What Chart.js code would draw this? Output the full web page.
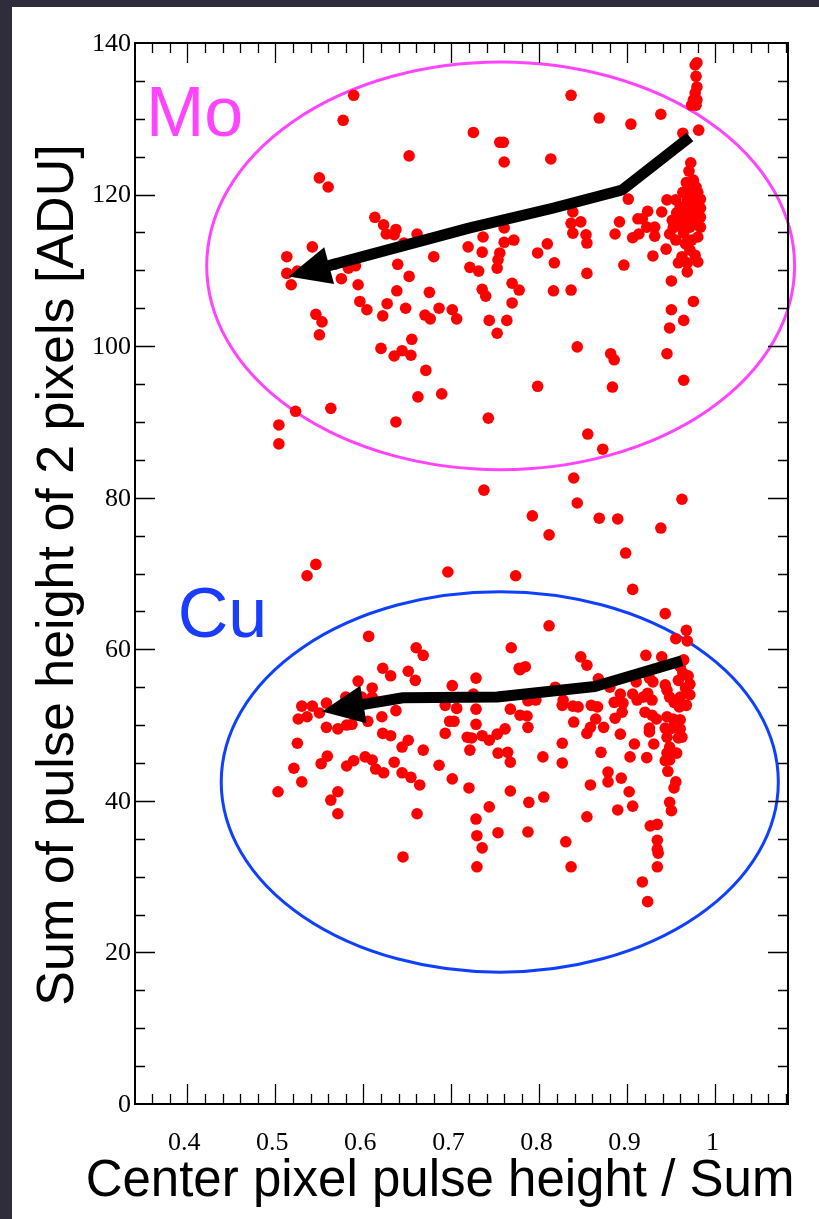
<!DOCTYPE html>
<html>
<head>
<meta charset="utf-8">
<title>Center pixel pulse height / Sum</title>
<script src="https://cdn.jsdelivr.net/npm/chart.js@4.4.0/dist/chart.umd.min.js"></script>
<style>
  html, body { margin: 0; padding: 0; background: #2f2d3b; overflow: hidden; }
  canvas { display: block; }
</style>
</head>
<body>
<canvas id="scatterChart" width="819" height="1219"></canvas>
<script>
// axis ranges and tick labels
const xMin = 0.3405, xMax = 1.0825;
const yMin = 0, yMax = 140;
const xTickValues = [0.4, 0.5, 0.6, 0.7, 0.8, 0.9, 1.0];
const xTickLabels = ['0.4', '0.5', '0.6', '0.7', '0.8', '0.9', '1'];
const yTickValues = [0, 20, 40, 60, 80, 100, 120, 140];
const yTickLabels = ['0', '20', '40', '60', '80', '100', '120', '140'];

// events in the Mo band
const moPoints = [
  [0.589, 133.1], [0.577, 129.8], [0.725, 128.2], [0.652, 125.1], [0.550, 122.2], [0.560, 121.0],
  [0.613, 117.0], [0.623, 116.0], [0.626, 114.8], [0.637, 115.4], [0.635, 114.7], [0.661, 114.8],
  [0.646, 113.6], [0.542, 113.1], [0.513, 111.8], [0.680, 111.8], [0.719, 113.1], [0.736, 114.4],
  [0.735, 112.4], [0.513, 109.6], [0.525, 109.9], [0.518, 108.1], [0.567, 110.8], [0.583, 110.3],
  [0.591, 110.6], [0.639, 110.8], [0.652, 109.2], [0.721, 110.4], [0.731, 109.9], [0.575, 108.9],
  [0.594, 108.1], [0.638, 107.3], [0.675, 107.1], [0.735, 107.5], [0.596, 105.9], [0.604, 104.8],
  [0.627, 105.6], [0.622, 104.0], [0.648, 105.0], [0.670, 104.1], [0.676, 103.6], [0.686, 105.0],
  [0.701, 104.8], [0.706, 103.6], [0.546, 104.2], [0.553, 103.2], [0.550, 101.5], [0.655, 100.9],
  [0.620, 99.7], [0.635, 98.7], [0.644, 99.4], [0.654, 98.8], [0.671, 96.8], [0.662, 93.3],
  [0.689, 93.7], [0.760, 115.6], [0.760, 113.7], [0.771, 114.0], [0.755, 112.3], [0.753, 111.4],
  [0.752, 110.3], [0.739, 106.6], [0.769, 108.3], [0.777, 107.4], [0.769, 105.7], [0.743, 103.4],
  [0.763, 103.4], [0.752, 101.7], [0.798, 112.3], [0.809, 113.5], [0.817, 111.0], [0.816, 107.3],
  [0.836, 107.4], [0.838, 117.7], [0.836, 116.2], [0.847, 116.4], [0.838, 114.9], [0.853, 114.7],
  [0.854, 113.6], [0.854, 109.6], [0.891, 116.4], [0.886, 114.8], [0.901, 119.4], [0.896, 110.7],
  [0.906, 114.3], [0.912, 116.8], [0.917, 116.8], [0.923, 117.8], [0.913, 114.8], [0.922, 115.7],
  [0.931, 115.7], [0.931, 114.5], [0.939, 117.7], [0.945, 119.3], [0.929, 111.9], [0.944, 112.8],
  [0.950, 108.6], [0.950, 104.8], [0.975, 105.9], [0.964, 103.4], [0.948, 102.4], [0.945, 99.0],
  [0.964, 95.5], [0.883, 94.6], [0.881, 99.0], [0.885, 98.2], [0.855, 88.4], [0.872, 86.4],
  [0.843, 99.9], [0.798, 94.7], [0.742, 90.5], [0.523, 91.4], [0.563, 91.8], [0.504, 89.6],
  [0.504, 87.1], [0.637, 90.0], [0.836, 133.1], [0.868, 130.1], [0.904, 129.3], [0.938, 130.6],
  [0.963, 128.1], [0.981, 128.5], [0.755, 126.9], [0.759, 126.9], [0.760, 124.3], [0.813, 124.7],
  [0.979, 137.4], [0.977, 137.1], [0.978, 135.6], [0.979, 134.2], [0.977, 133.4], [0.975, 132.5],
  [0.979, 132.5], [0.973, 131.8], [0.978, 131.8], [0.972, 124.2], [0.970, 123.1], [0.967, 121.6],
  [0.975, 121.9], [0.978, 121.0], [0.963, 120.3], [0.971, 120.3], [0.980, 120.3], [0.983, 119.4],
  [0.968, 119.4], [0.975, 119.0], [0.960, 118.4], [0.969, 118.2], [0.979, 118.2], [0.956, 117.6],
  [0.966, 117.3], [0.975, 117.3], [0.983, 117.0], [0.951, 116.6], [0.960, 116.6], [0.969, 116.4],
  [0.979, 116.0], [0.952, 115.6], [0.962, 115.6], [0.971, 115.7], [0.983, 115.7], [0.980, 114.4],
  [0.966, 113.5], [0.980, 111.1], [0.962, 111.8], [0.958, 111.0], [0.968, 111.0], [0.968, 109.8],
  [0.955, 119.3], [0.964, 114.9], [0.973, 114.0], [0.955, 114.0], [0.948, 114.8], [0.971, 112.7],
  [0.977, 112.0], [0.983, 118.2]
];

// events between the two bands
const gapPoints = [
  [0.839, 82.6], [0.737, 81.0], [0.843, 79.3], [0.962, 79.8], [0.792, 77.6], [0.868, 77.3],
  [0.889, 77.2], [0.811, 75.1], [0.938, 76.0], [0.898, 72.7], [0.546, 71.2], [0.536, 69.7],
  [0.696, 70.2], [0.773, 69.7], [0.906, 67.9], [0.943, 64.7]
];

// events in the Cu band
const cuPoints = [
  [0.606, 61.7], [0.660, 60.2], [0.668, 59.2], [0.622, 57.5], [0.631, 56.5], [0.651, 57.1],
  [0.659, 55.9], [0.594, 55.8], [0.610, 54.9], [0.610, 53.7], [0.598, 53.7], [0.580, 53.7],
  [0.558, 52.9], [0.542, 52.5], [0.530, 52.5], [0.526, 50.8], [0.536, 51.1], [0.550, 51.6],
  [0.558, 49.7], [0.571, 49.5], [0.581, 50.0], [0.587, 50.1], [0.605, 50.5], [0.621, 51.1],
  [0.637, 51.9], [0.622, 48.9], [0.631, 48.6], [0.651, 48.0], [0.644, 47.1], [0.668, 46.7],
  [0.525, 47.6], [0.559, 45.9], [0.552, 44.9], [0.521, 44.3], [0.530, 42.5], [0.503, 41.2],
  [0.571, 41.2], [0.563, 40.1], [0.571, 38.3], [0.589, 45.3], [0.581, 44.6], [0.602, 45.8],
  [0.610, 45.4], [0.614, 44.2], [0.623, 43.7], [0.635, 45.1], [0.644, 43.7], [0.654, 43.1],
  [0.664, 42.1], [0.686, 44.7], [0.701, 42.9], [0.720, 41.7], [0.661, 38.3], [0.645, 32.6],
  [0.701, 55.2], [0.693, 52.6], [0.706, 52.2], [0.698, 50.5], [0.703, 50.5], [0.693, 48.9],
  [0.718, 48.4], [0.723, 48.3], [0.721, 46.7], [0.728, 56.2], [0.725, 54.1], [0.728, 52.1],
  [0.728, 50.1], [0.735, 48.6], [0.743, 48.0], [0.752, 48.8], [0.761, 49.5], [0.767, 52.1],
  [0.778, 51.3], [0.786, 51.2], [0.787, 49.7], [0.787, 53.2], [0.796, 53.3], [0.818, 55.0],
  [0.827, 53.3], [0.826, 52.6], [0.838, 52.5], [0.844, 52.4], [0.859, 52.6], [0.866, 52.4],
  [0.867, 56.1], [0.880, 55.0], [0.864, 50.8], [0.858, 49.7], [0.854, 48.9], [0.873, 49.7],
  [0.839, 50.4], [0.826, 47.6], [0.826, 45.0], [0.804, 45.8], [0.753, 46.3], [0.764, 46.4],
  [0.767, 45.1], [0.870, 46.4], [0.892, 48.8], [0.886, 50.9], [0.885, 53.0], [0.892, 54.1],
  [0.895, 52.9], [0.894, 51.7], [0.906, 54.1], [0.911, 53.3], [0.918, 53.7], [0.923, 54.2],
  [0.928, 53.3], [0.920, 51.7], [0.928, 51.3], [0.933, 50.8], [0.910, 55.7], [0.925, 56.2],
  [0.929, 55.7], [0.943, 55.3], [0.945, 54.6], [0.948, 53.7], [0.960, 57.7], [0.963, 56.9],
  [0.958, 55.9], [0.966, 54.9], [0.960, 53.7], [0.953, 53.0], [0.959, 52.4], [0.945, 51.1],
  [0.952, 50.8], [0.960, 50.7], [0.925, 49.6], [0.925, 49.1], [0.908, 47.5], [0.930, 47.5],
  [0.943, 49.6], [0.951, 49.6], [0.960, 49.5], [0.945, 48.4], [0.958, 48.3], [0.962, 48.4],
  [0.948, 47.1], [0.956, 46.3], [0.945, 46.3], [0.922, 45.7], [0.903, 45.8], [0.943, 45.3],
  [0.948, 45.4], [0.946, 43.9], [0.893, 43.0], [0.878, 43.8], [0.878, 42.5], [0.858, 42.1],
  [0.955, 42.5], [0.953, 41.7], [0.902, 41.2], [0.906, 39.3], [0.889, 38.8], [0.948, 39.8],
  [0.950, 38.7], [0.767, 41.3], [0.788, 39.8], [0.805, 40.5], [0.743, 39.2], [0.728, 37.6],
  [0.729, 35.4], [0.735, 33.8], [0.729, 31.3], [0.753, 35.8], [0.787, 35.9], [0.854, 37.9],
  [0.830, 34.6], [0.836, 31.3], [0.926, 36.7], [0.934, 36.9], [0.934, 34.8], [0.934, 33.6],
  [0.935, 33.1], [0.934, 31.3], [0.917, 29.3], [0.923, 26.7], [0.811, 63.1], [0.768, 60.2],
  [0.777, 57.5], [0.784, 57.7], [0.778, 57.3], [0.847, 59.0], [0.854, 57.9], [0.921, 59.2],
  [0.939, 59.0], [0.967, 62.5], [0.955, 61.4], [0.968, 61.1], [0.969, 56.5], [0.971, 55.4],
  [0.964, 58.6], [0.971, 54.0], [0.967, 52.6]
];

// hand-drawn guides: ellipses (center x, center y, half width, half height) and arrows
const moEllipse = [0.756, 110.6, 0.334, 26.9];
const cuEllipse = [0.755, 42.5, 0.3165, 25.1];
const moArrow = [[0.971, 127.6], [0.894, 120.6], [0.815, 118.2], [0.721, 115.6], [0.515, 109.2]];
const cuArrow = [[0.962, 58.5], [0.863, 55.1], [0.752, 53.7], [0.645, 53.6], [0.553, 51.8]];
const moLabel = ['Mo', 0.353, 127.7];
const cuLabel = ['Cu', 0.389, 61.6];

function toPx(chart, x, y) {
    return [chart.scales.x.getPixelForValue(x), chart.scales.y.getPixelForValue(y)];
}

function drawEllipse(chart, e, color) {
    const ctx = chart.ctx;
    const [cx, cy] = toPx(chart, e[0], e[1]);
    const rx = Math.abs(chart.scales.x.getPixelForValue(e[0] + e[2]) - cx);
    const ry = Math.abs(chart.scales.y.getPixelForValue(e[1] + e[3]) - cy);
    ctx.save();
    ctx.strokeStyle = color;
    ctx.lineWidth = 3;
    ctx.beginPath();
    ctx.ellipse(cx, cy, rx, ry, 0, 0, Math.PI * 2);
    ctx.stroke();
    ctx.restore();
}

function drawArrow(chart, pts) {
    const ctx = chart.ctx;
    const px = pts.map(p => toPx(chart, p[0], p[1]));
    const tip = px[px.length - 1];
    const prev = px[px.length - 2];
    const ang = Math.atan2(tip[1] - prev[1], tip[0] - prev[0]);
    const headLen = 42, headHalf = 19;
    const base = [tip[0] - headLen * Math.cos(ang), tip[1] - headLen * Math.sin(ang)];

    ctx.save();
    ctx.strokeStyle = '#000';
    ctx.lineWidth = 11;
    ctx.lineJoin = 'round';
    ctx.beginPath();
    ctx.moveTo(px[0][0], px[0][1]);
    for (let i = 1; i < px.length - 1; i++) ctx.lineTo(px[i][0], px[i][1]);
    ctx.lineTo(base[0] + 4 * Math.cos(ang), base[1] + 4 * Math.sin(ang));
    ctx.stroke();

    ctx.fillStyle = '#000';
    ctx.beginPath();
    ctx.moveTo(tip[0], tip[1]);
    ctx.lineTo(base[0] - headHalf * Math.sin(ang), base[1] + headHalf * Math.cos(ang));
    ctx.lineTo(base[0] + headHalf * Math.sin(ang), base[1] - headHalf * Math.cos(ang));
    ctx.closePath();
    ctx.fill();
    ctx.restore();
}

function drawFrame(chart) {
    const ctx = chart.ctx;
    const a = chart.chartArea;
    const xs = chart.scales.x, ys = chart.scales.y;
    ctx.save();
    ctx.strokeStyle = '#000';

    // minor and major ticks on all four sides, pointing inward
    ctx.lineWidth = 1.3;
    ctx.beginPath();
    for (let i = 18; i <= 54; i++) {
        const v = i / 50;
        const x = Math.round(xs.getPixelForValue(v)) + 0.5;
        if (x <= a.left + 1 || x >= a.right - 1) continue;
        const len = (i % 5 === 0) ? 20 : 10;
        ctx.moveTo(x, a.bottom); ctx.lineTo(x, a.bottom - len);
        ctx.moveTo(x, a.top); ctx.lineTo(x, a.top + len);
    }
    for (let v = 5; v < 140; v += 5) {
        const y = Math.round(ys.getPixelForValue(v)) + 0.5;
        const len = (v % 20 === 0) ? 20 : 10;
        ctx.moveTo(a.left, y); ctx.lineTo(a.left + len, y);
        ctx.moveTo(a.right, y); ctx.lineTo(a.right - len, y);
    }
    ctx.stroke();

    ctx.lineWidth = 2;
    ctx.strokeRect(a.left, a.top, a.right - a.left, a.bottom - a.top);

    // tick labels
    ctx.fillStyle = '#000';
    ctx.font = '26px "Liberation Serif", "Times New Roman", serif';
    ctx.textAlign = 'right';
    ctx.textBaseline = 'middle';
    yTickValues.forEach((v, i) => {
        ctx.fillText(yTickLabels[i], a.left - 4, ys.getPixelForValue(v) + 1);
    });
    ctx.textAlign = 'center';
    ctx.textBaseline = 'alphabetic';
    xTickValues.forEach((v, i) => {
        ctx.fillText(xTickLabels[i], xs.getPixelForValue(v) - 3, a.bottom + 46);
    });

    // axis titles
    ctx.font = '51px "Liberation Sans", Arial, sans-serif';
    ctx.fillText('Center pixel pulse height / Sum', 440, 1196);
    ctx.font = '52px "Liberation Sans", Arial, sans-serif';
    ctx.translate(73, 575);
    ctx.rotate(-Math.PI / 2);
    ctx.fillText('Sum of pulse height of 2 pixels [ADU]', 0, 0);
    ctx.restore();
}

function drawLabel(chart, lbl, color) {
    const ctx = chart.ctx;
    const [x, y] = toPx(chart, lbl[1], lbl[2]);
    ctx.save();
    ctx.fillStyle = color;
    ctx.font = '70px "Liberation Sans", Arial, sans-serif';
    ctx.textAlign = 'left';
    ctx.textBaseline = 'alphabetic';
    ctx.fillText(lbl[0], x, y);
    ctx.restore();
}

const slideDecor = {
    id: 'slideDecor',
    beforeDraw(chart) {
        const ctx = chart.ctx;
        ctx.save();
        ctx.fillStyle = '#2f2d3b';
        ctx.fillRect(0, 0, chart.width, chart.height);
        ctx.fillStyle = '#ffffff';
        ctx.fillRect(12, 7, chart.width - 12, chart.height - 7);
        ctx.restore();
    },
    beforeDatasetsDraw(chart) {
        drawEllipse(chart, moEllipse, '#ff44ff');
        drawEllipse(chart, cuEllipse, '#1040ff');
    },
    afterDatasetsDraw(chart) {
        drawArrow(chart, moArrow);
        drawArrow(chart, cuArrow);
        drawFrame(chart);
        drawLabel(chart, moLabel, '#ff44ff');
        drawLabel(chart, cuLabel, '#1a3cff');
    }
};

function toXY(list) {
    return list.map(p => ({ x: p[0], y: p[1] }));
}

document.addEventListener('DOMContentLoaded', function() {
    const ctx = document.getElementById('scatterChart').getContext('2d');
    const dotStyle = {
        backgroundColor: '#ff0000',
        borderWidth: 0,
        pointRadius: 5.8,
        pointHoverRadius: 5.8
    };

    new Chart(ctx, {
        type: 'scatter',
        data: {
            datasets: [
                Object.assign({ label: 'Mo', data: toXY(moPoints) }, dotStyle),
                Object.assign({ label: 'gap', data: toXY(gapPoints) }, dotStyle),
                Object.assign({ label: 'Cu', data: toXY(cuPoints) }, dotStyle)
            ]
        },
        options: {
            responsive: false,
            animation: false,
            devicePixelRatio: 1,
            layout: {
                padding: { left: 135, right: 31, top: 43, bottom: 115 }
            },
            scales: {
                x: { type: 'linear', min: xMin, max: xMax, display: false },
                y: { type: 'linear', min: yMin, max: yMax, display: false }
            },
            plugins: {
                legend: { display: false },
                tooltip: { enabled: false }
            }
        },
        plugins: [slideDecor]
    });
});
</script>
</body>
</html>
